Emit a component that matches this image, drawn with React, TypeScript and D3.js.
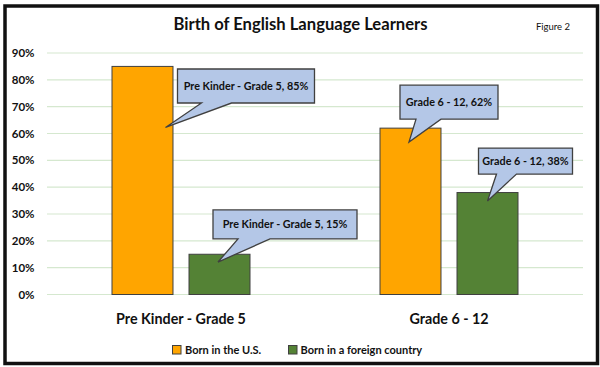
import React from 'react';
import * as d3 from 'd3';

// chart values
const categories = ['Pre Kinder - Grade 5', 'Grade 6 - 12'];
const seriesNames = ['Born in the U.S.', 'Born in a foreign country'];
const bornUS = [85, 62];
const bornForeign = [15, 38];
const yTicks = [0, 10, 20, 30, 40, 50, 60, 70, 80, 90];
const colors = ['#FFA500', '#548235'];

// callout placement, relative to the top centre of each bar
const calloutLayout = [
  { series: 0, cat: 0, dx: 103.5, dy: 19.6, w: 137, h: 34, tipDx: 23, tipDy: 61, baseL: 24, baseR: 54 },
  { series: 1, cat: 0, dx: 65.5, dy: -29.8, w: 144, h: 29, tipDx: -1.5, tipDy: 7.8, baseL: 25, baseR: 57 },
  { series: 0, cat: 1, dx: 38.5, dy: -26, w: 98, h: 34, tipDx: -1.5, tipDy: 14, baseL: 16, baseR: 41 },
  { series: 1, cat: 1, dx: 38, dy: -31.5, w: 94, h: 26, tipDx: 0, tipDy: 8.5, baseL: 18, baseR: 38 },
];

const W = 600;
const H = 367;
const font = 'Lato, "Open Sans", sans-serif';
const textColor = '#111';

const App = () => {
  const values = [bornUS, bornForeign];

  const x0 = d3.scaleBand<string>().domain(categories).range([47, 583]).padding(0);
  const groupW = 138;
  const off = (x0.bandwidth() - groupW) / 2;
  const x1 = d3.scaleBand<string>().domain(seriesNames).range([off, off + groupW]).paddingInner(0.208);
  const y = d3.scaleLinear().domain([0, 90]).range([294.5, 53]);

  const barCenter = (s: number, c: number) => (x0(categories[c]) as number) + (x1(seriesNames[s]) as number) + x1.bandwidth() / 2;

  return (
    <svg width={W} height={H} style={{ position: 'absolute', left: 0, top: 0 }} fontFamily={font}>
      <rect x={0} y={0} width={W} height={H} fill="#fff" />
      <rect x={5} y={6} width={592.5} height={357.5} fill="#fff" stroke="#111" strokeWidth={3.5} />

      <text x={300.5} y={30} textAnchor="middle" fontSize={16.6} fontWeight="bold" fill={textColor}>
        Birth of English Language Learners
      </text>
      <text x={553} y={30} textAnchor="middle" fontSize={9.5} fill={textColor}>
        Figure 2
      </text>

      {yTicks.map(t => (
        <g key={t}>
          <line x1={47} x2={583} y1={y(t)} y2={y(t)} stroke="#d5e8cf" strokeWidth={1.2} />
          <text x={34.5} y={y(t) + 4} textAnchor="end" fontSize={11.5} fontWeight="bold" fill={textColor}>
            {t}%
          </text>
        </g>
      ))}

      {values.map((vals, s) =>
        vals.map((v, c) => (
          <rect
            key={`${s}-${c}`}
            x={(x0(categories[c]) as number) + (x1(seriesNames[s]) as number)}
            y={y(v)}
            width={x1.bandwidth()}
            height={y(0) - y(v)}
            fill={colors[s]}
            stroke="#404040"
            strokeWidth={1}
          />
        ))
      )}

      {categories.map(c => (
        <text key={c} x={(x0(c) as number) + x0.bandwidth() / 2} y={324} textAnchor="middle" fontSize={14.3} fontWeight="bold" fill={textColor}>
          {c}
        </text>
      ))}

      {calloutLayout.map((o, i) => {
        const v = values[o.series][o.cat];
        const cx = barCenter(o.series, o.cat);
        const ty = y(v);
        const bx = cx + o.dx - o.w / 2;
        const by = ty + o.dy - o.h / 2;
        const tipX = cx + o.tipDx;
        const tipY = ty + o.tipDy;
        const path = d3.path();
        path.moveTo(bx, by);
        path.lineTo(bx + o.w, by);
        path.lineTo(bx + o.w, by + o.h);
        path.lineTo(bx + o.baseR, by + o.h);
        path.lineTo(tipX, tipY);
        path.lineTo(bx + o.baseL, by + o.h);
        path.lineTo(bx, by + o.h);
        path.closePath();
        return (
          <g key={i}>
            <path d={path.toString()} fill="#B4C7E7" stroke="#404040" strokeWidth={1.3} />
            <text x={bx + o.w / 2} y={by + o.h / 2 + 4} textAnchor="middle" fontSize={10.8} fontWeight="bold" fill={textColor}>
              {`${categories[o.cat]}, ${v}%`}
            </text>
          </g>
        );
      })}

      <g>
        <rect x={172.5} y={345.5} width={8.5} height={8.5} fill={colors[0]} stroke="#404040" strokeWidth={1} />
        <text x={185} y={353.5} fontSize={11} fontWeight="bold" fill={textColor}>{seriesNames[0]}</text>
        <rect x={288.5} y={345.5} width={8.5} height={8.5} fill={colors[1]} stroke="#404040" strokeWidth={1} />
        <text x={300.5} y={353.5} fontSize={11} fontWeight="bold" fill={textColor}>{seriesNames[1]}</text>
      </g>
    </svg>
  );
};

export default App;
